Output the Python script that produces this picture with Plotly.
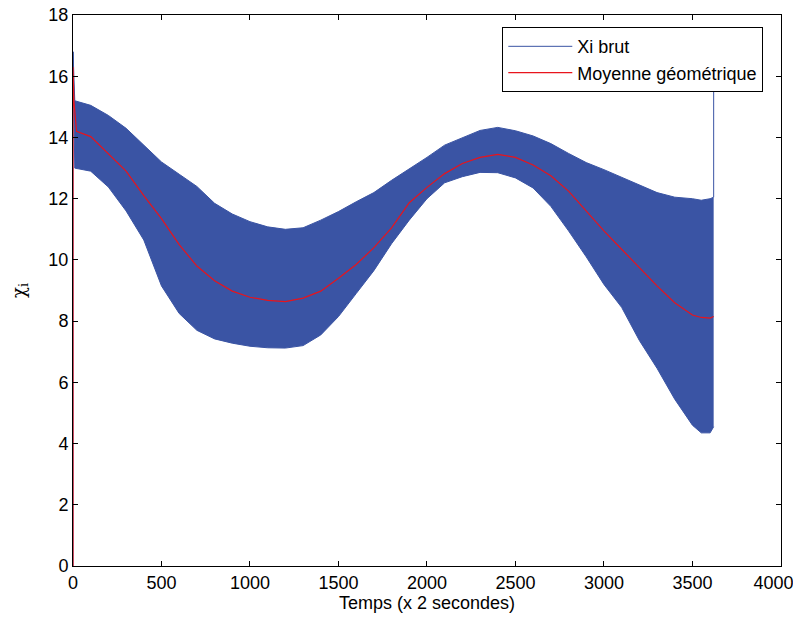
import plotly.graph_objects as go

# Envelope of the raw Xi signal
xi_x = [10, 100, 200, 300, 400, 500, 600, 700, 800, 900, 1000, 1100, 1200, 1300, 1400,
        1500, 1600, 1700, 1800, 1900, 2000, 2100, 2200, 2300, 2400, 2500, 2600, 2700,
        2800, 2900, 3000, 3100, 3200, 3300, 3400, 3500, 3550, 3600, 3620]
xi_upper = [15.2, 15.05, 14.72, 14.3, 13.75, 13.2, 12.8, 12.4, 11.85, 11.5, 11.25, 11.08, 11.0,
            11.05, 11.3, 11.58, 11.9, 12.2, 12.6, 12.97, 13.35, 13.75, 14.0, 14.23, 14.33,
            14.22, 14.05, 13.8, 13.48, 13.18, 12.95, 12.7, 12.45, 12.2, 12.05, 12.0, 11.95, 12.0, 12.05]
xi_lower = [13.0, 12.9, 12.38, 11.6, 10.65, 9.15, 8.25, 7.7, 7.42, 7.28, 7.18, 7.13, 7.12,
            7.2, 7.55, 8.15, 8.9, 9.65, 10.53, 11.3, 12.0, 12.52, 12.72, 12.86, 12.85,
            12.68, 12.35, 11.75, 10.95, 10.1, 9.2, 8.45, 7.37, 6.46, 5.45, 4.6, 4.35, 4.35, 4.55]
xi_start_x = [0, 0]
xi_start_y = [0, 16.8]
xi_end_spike = 16.5

# Geometric mean
moy_x = [0, 0, 5, 20, 100, 200, 300, 400, 500, 600, 700, 800, 900, 1000, 1100, 1200, 1300,
         1400, 1500, 1600, 1700, 1800, 1900, 2000, 2100, 2200, 2300, 2400, 2500, 2600, 2700,
         2800, 2900, 3000, 3100, 3200, 3300, 3400, 3500, 3550, 3600, 3620]
moy_y = [0, 16.3, 15.2, 14.2, 14.03, 13.45, 12.9, 12.1, 11.35, 10.5, 9.8, 9.32, 8.98, 8.78,
         8.68, 8.64, 8.75, 8.98, 9.4, 9.85, 10.4, 11.05, 11.87, 12.37, 12.82, 13.15, 13.35,
         13.45, 13.35, 13.1, 12.75, 12.25, 11.6, 10.95, 10.35, 9.75, 9.15, 8.6, 8.2, 8.12, 8.1, 8.15]

x_ticks = [0, 500, 1000, 1500, 2000, 2500, 3000, 3500, 4000]
x_tick_labels = ["0", "500", "1000", "1500", "2000", "2500", "3000", "3500", "4000"]
y_ticks = [0, 2, 4, 6, 8, 10, 12, 14, 16, 18]

blue = "#3a54a4"
red = "#e8141c"

lower_x = xi_start_x + xi_x
lower_y = xi_start_y + xi_lower
upper_x = xi_start_x[:1] + xi_x + [xi_x[-1]]
upper_y = xi_start_y[1:] + xi_upper + [xi_end_spike]

# keep the last x label inside the page (it sits at the right edge)
x_tick_text = x_tick_labels[:-1] + [x_tick_labels[-1] + "\u00a0\u00a0\u00a0"]

fig = go.Figure()
fig.add_trace(go.Scatter(x=lower_x, y=lower_y, mode="lines", name="Xi brut",
                         line=dict(color=blue, width=1), hoverinfo="skip"))
fig.add_trace(go.Scatter(x=upper_x, y=upper_y, mode="lines", fill="tonexty",
                         fillcolor=blue, showlegend=False,
                         line=dict(color=blue, width=1), hoverinfo="skip"))
fig.add_trace(go.Scatter(x=moy_x, y=moy_y, mode="lines", name="Moyenne géométrique",
                         line=dict(color=red, width=1.2), hoverinfo="skip"))

font_family = "Liberation Sans"
axis_common = dict(showline=True, linecolor="black", linewidth=1, mirror="ticks",
                   ticks="inside", ticklen=5, tickcolor="black", showgrid=False,
                   zeroline=False, automargin=False, ticklabeloverflow="allow",
                   tickfont=dict(family=font_family, size=18, color="black"))

fig.update_layout(
    width=793, height=623,
    margin=dict(l=73, r=12, t=15, b=57),
    paper_bgcolor="white", plot_bgcolor="white",
    xaxis=dict(range=[0, 4000.5], tickvals=x_ticks, ticktext=x_tick_text,
               title=dict(text="Temps (x 2 secondes)", font=dict(family=font_family, size=18, color="black"),
                          standoff=4),
               **axis_common),
    yaxis=dict(range=[0, 18.002], tickvals=y_ticks, ticktext=[str(v) for v in y_ticks],
               title=dict(text="χ<sub>i</sub>", font=dict(family="DejaVu Serif", size=18, color="black"),
                          standoff=18),
               **axis_common),
    legend=dict(x=0.975, y=0.978, xanchor="right", yanchor="top", traceorder="normal",
                bgcolor="white", bordercolor="black", borderwidth=1,
                font=dict(family=font_family, size=18, color="black"),
                tracegroupgap=2, itemwidth=64),
    showlegend=True,
)

fig.write_html("out.html", config={"displayModeBar": False},
               post_script="document.body.style.margin='0';")
